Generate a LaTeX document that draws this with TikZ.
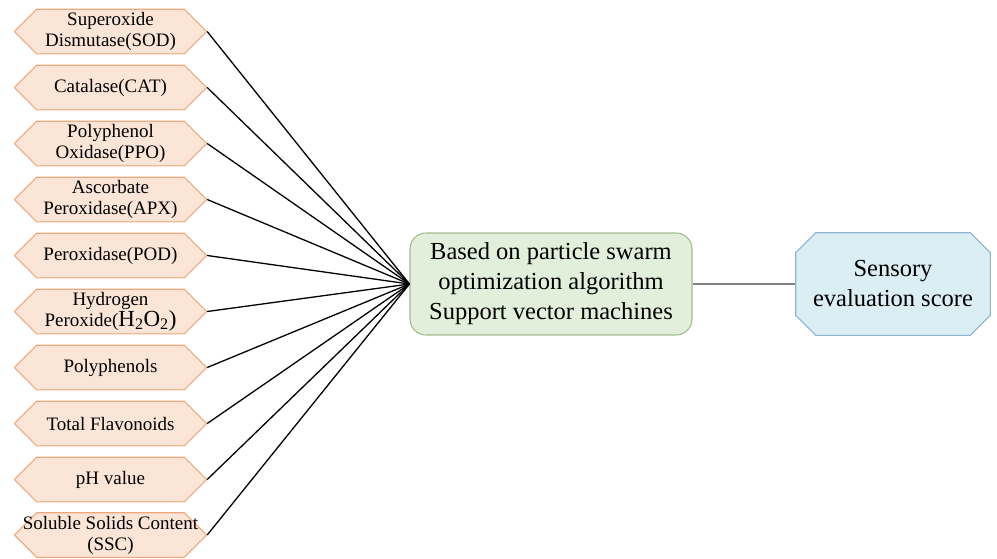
\documentclass[tikz,border=0pt]{standalone}
\usepackage{fontspec}
\setmainfont{Liberation Serif}
\usetikzlibrary{calc}
\definecolor{IN}{HTML}{FBE5D6}
\definecolor{INline}{HTML}{EFA77C}
\definecolor{MID}{HTML}{E2EFDA}
\definecolor{MIDline}{HTML}{A3BC94}
\definecolor{OUT}{HTML}{DAEEF3}
\definecolor{OUTline}{HTML}{8FB6CC}
% octagon-like box drawn inside the node's rectangle: #1 = cut, #2 = fill, #3 = line
\tikzset{
  cutbox/.style n args={3}{
    path picture={
      \coordinate (pa) at ([shift={(.7pt,-.7pt)}]path picture bounding box.north west);
      \coordinate (pb) at ([shift={(-.7pt,.7pt)}]path picture bounding box.south east);
      \draw[fill=#2,draw=#3,line width=1.1pt]
        ($(pa)+(0,-#1)$) -- ($(pa)+(#1,0)$) -- ($(pa -| pb)+(-#1,0)$) -- ($(pa -| pb)+(0,-#1)$)
        -- ($(pb)+(0,#1)$) -- ($(pb)+(-#1,0)$) -- ($(pb -| pa)+(#1,0)$) -- ($(pb -| pa)+(0,#1)$) -- cycle;
    }},
  factor/.style={cutbox={22pt}{IN}{INline},minimum width=193pt,minimum height=46pt,
    inner sep=0pt,align=center,font=\fontsize{19}{21}\selectfont},
  link/.style={line width=1.3pt,black}
}

\begin{document}
\begin{tikzpicture}[x=1pt,y=-1pt]
\useasboundingbox (0,0) rectangle (997,558);
\node[factor] (SOD) at (110.5,31.5){Superoxide\\Dismutase(SOD)};
\node[factor] (CAT) at (110.5,87.5){Catalase(CAT)};
\node[factor] (PPO) at (110.5,143.5){Polyphenol\\Oxidase(PPO)};
\node[factor] (APX) at (110.5,199.5){Ascorbate\\Peroxidase(APX)};
\node[factor] (POD) at (110.5,255.5){Peroxidase(POD)};
\node[factor] (HP) at (110.5,311.5){Hydrogen\\Peroxide({\fontsize{23}{21}\selectfont H\textsubscript{2}O\textsubscript{2})}};
\node[factor] (PP) at (110.5,367.5){Polyphenols};
\node[factor] (TF) at (110.5,423.5){Total Flavonoids};
\node[factor] (PH) at (110.5,479.5){pH value};
\node[factor] (SSC) at (110.5,535){Soluble Solids Content\\(SSC)};
\node[draw=MIDline,fill=MID,line width=1.1pt,rounded corners=16pt,align=center,
  minimum width=282pt,minimum height=102pt,font=\fontsize{24.5}{30}\selectfont]
  (M) at (551,284){Based on particle swarm\\optimization algorithm\\Support vector machines};
\node[cutbox={20pt}{OUT}{OUTline},minimum width=196pt,minimum height=104pt,align=center,
  font=\fontsize{24.5}{30}\selectfont] (S) at (893,284){Sensory\\evaluation score};
\foreach \n in {SOD,CAT,PPO,APX,POD,HP,PP,TF,PH,SSC}
  \draw[link] (\n.east) -- (M.west);
\draw[line width=1.8pt,gray] (M) -- (S);
\end{tikzpicture}
\end{document}
